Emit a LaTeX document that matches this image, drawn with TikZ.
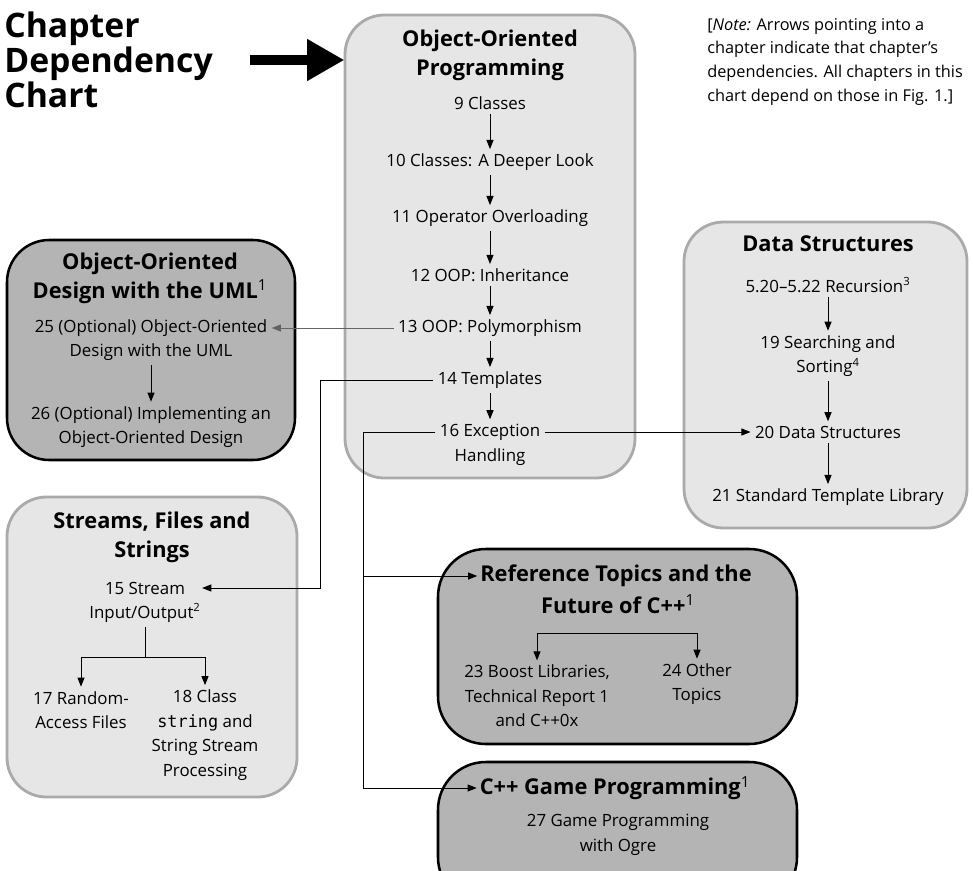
\documentclass[tikz,border=0pt]{standalone}
\usepackage{fontspec}
\setmainfont{Open Sans}
\setmonofont{DejaVu Sans Mono}
\usetikzlibrary{positioning, arrows.meta, fit, calc}
\definecolor{boxlight}{RGB}{230,230,230}
\definecolor{edgelight}{RGB}{170,170,170}
\definecolor{boxdark}{RGB}{180,180,180}
\definecolor{linkgrey}{RGB}{100,100,100}
\tikzset{
    lightbox/.style={rectangle, rounded corners=28pt, draw=edgelight, fill=boxlight, line width=2pt, inner sep=0pt},
    darkbox/.style={rectangle, rounded corners=30pt, draw=black, fill=boxdark, line width=1.8pt, inner sep=0pt},
    boxhead/.style={font=\fontsize{15.5}{20.5}\selectfont\bfseries, align=center, inner sep=2pt},
    chap/.style={font=\fontsize{12}{17.5}\selectfont, align=center, inner sep=3pt},
    arr/.style={-{Triangle[length=6.5pt, width=5pt]}, line width=0.7pt},
    arrboth/.style={{Triangle[length=6.5pt, width=5pt]}-{Triangle[length=6.5pt, width=5pt]}, line width=0.7pt},
    link/.style={line width=0.7pt},
    bigarr/.style={-{Triangle[length=26pt, width=30pt, line width=0.01pt]}, line width=7pt}
}

\begin{document}
\begin{tikzpicture}[x=0.025cm, y=-0.025cm]
    \useasboundingbox (0,0) rectangle (973,870);
    \clip (0,0) rectangle (973,870);

    % Chapter group boxes
    \node[lightbox, fit={(345,15) (635,478)}] (oopbox) {};
    \node[darkbox, fit={(7,240) (295,460)}] (umlbox) {};
    \node[lightbox, fit={(684,222) (967,528)}] (databox) {};
    \node[lightbox, fit={(7,497) (297,797)}] (strbox) {};
    \node[darkbox, rounded corners=34pt, fit={(438,549) (797,744)}] (refbox) {};
    \node[darkbox, rounded corners=34pt, fit={(438,762) (797,905)}] (gamebox) {};

    % Title and note
    \node[anchor=west, align=left, inner sep=0pt, font=\fontsize{24}{23}\selectfont\bfseries] (title) at (4,60) {Chapter\\Dependency\\Chart};
    \draw[bigarr] ([xshift=26pt]title.east) -- (title.east -| oopbox.west);
    \node[anchor=north west, align=left, inner sep=0pt, font=\fontsize{11.6}{16.8}\selectfont] (note) at (707,18)
        {[\textit{Note:} Arrows pointing into a\\chapter indicate that chapter’s\\dependencies. All chapters in this\\chart depend on those in Fig. 1.]};

    % Object-Oriented Programming
    \node[boxhead] (oophead) at (490,55) {Object-Oriented\\Programming};
    \node[chap] (c9) at (490,103) {9 Classes};
    \node[chap] (c10) at (490,162) {10 Classes: A Deeper Look};
    \node[chap] (c11) at (490,218) {11 Operator Overloading};
    \node[chap] (c12) at (490,275) {12 OOP: Inheritance};
    \node[chap] (c13) at (490,328) {13 OOP: Polymorphism};
    \node[chap] (c14) at (490,380) {14 Templates};
    \node[chap] (c16) at (490,432) {16 Exception};
    \node[chap] (c16b) at (490,457) {Handling};

    % Object-Oriented Design with the UML
    \node[boxhead] (umlhead) at (150,278) {Object-Oriented\\Design with the UML\textsuperscript{\mdseries 1}};
    \node[chap] (c25) at (151,340) {25 (Optional) Object-Oriented\\Design with the UML};
    \node[chap] (c26) at (151,427) {26 (Optional) Implementing an\\Object-Oriented Design};

    % Data Structures
    \node[boxhead] (datahead) at (828,244) {Data Structures};
    \node[chap] (c5) at (828,285) {5.20--5.22 Recursion\textsuperscript{3}};
    \node[chap] (c19) at (828,356) {19 Searching and\\Sorting\textsuperscript{4}};
    \node[chap] (c20) at (828,432) {20 Data Structures};
    \node[chap] (c21) at (828,497) {21 Standard Template Library};

    % Streams, Files and Strings
    \node[boxhead] (strhead) at (152,537) {Streams, Files and\\Strings};
    \node[chap] (c15) at (145,588) {15 Stream};
    \node[chap] (c15b) at (145,613) {Input/Output\textsuperscript{2}};
    \node[chap] (c17) at (81,710) {17 Random-\\Access Files};
    \node[chap] (c18) at (205,735) {18 Class\\\texttt{string} and\\String Stream\\Processing};

    % Reference Topics and C++ Game Programming
    \node[boxhead] (href) at (616,576) {Reference Topics and the};
    \node[boxhead] (href2) at (618,604) {Future of C++\textsuperscript{\mdseries 1}};
    \node[chap] (c23) at (537,696) {23 Boost Libraries,\\Technical Report 1\\and C++0x};
    \node[chap] (c24) at (697,684) {24 Other\\Topics};
    \node[boxhead] (hgame) at (615,788) {C++ Game Programming\textsuperscript{\mdseries 1}};
    \node[chap] (c27) at (618,835) {27 Game Programming\\with Ogre};

    % Dependencies inside the boxes
    \foreach \a/\b in {c9/c10, c10/c11, c11/c12, c12/c13, c13/c14, c14/c16, c25/c26, c5/c19, c19/c20, c20/c21}
        \draw[arr] (\a) -- (\b);
    \coordinate (br15) at (145,657);
    \draw[link] (c15b) -- (br15);
    \draw[arr] (br15) -| (c17);
    \draw[arr] (br15) -| (c18);
    \coordinate (rbar) at (617,633);
    \draw[arrboth] (c23.north) |- (rbar) -| (c24.north);

    % Dependencies between the boxes
    \draw[arr, draw=linkgrey] (c13.west) -- (c13.west -| c25.east);
    \coordinate (j14) at (320,0);
    \draw[arr, shorten >=9pt] (c14.west) -| (j14 |- c15.east) -- (c15.east);
    \draw[arr] (c16.east) -- (c20.west);
    \coordinate (j16) at (363,0);
    \draw[arr] (c16.west) -| (j16 |- hgame.west) -- (hgame.west);
    \draw[arr] (j16 |- href.west) -- (href.west);
\end{tikzpicture}
\end{document}
